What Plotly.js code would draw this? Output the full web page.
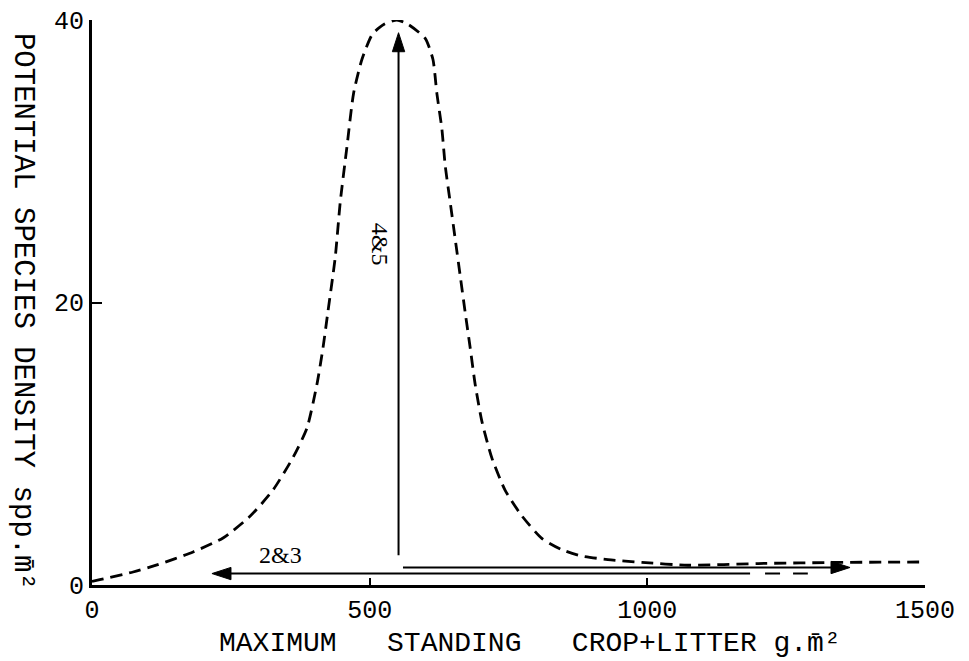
<!DOCTYPE html>
<html>
<head>
<meta charset="utf-8">
<script src="https://cdn.plot.ly/plotly-3.0.1.min.js"></script>
<style>html,body{margin:0;padding:0;background:#fff;}#chart{width:969px;height:661px;}</style>
</head>
<body>
<div id="chart"></div>
<script>
// Dashed curve: potential species density vs maximum standing crop + litter
const curveX = [0, 14, 74, 117, 182, 236, 285, 326, 362, 387, 405, 416, 425, 438, 447, 459, 471, 486, 505, 526, 549, 569, 600, 614, 621, 630, 636, 645, 654, 663, 672, 681, 690, 702, 720, 744, 774, 810, 846, 882, 929, 990, 1073, 1200, 1350, 1500];
const curveY = [0.25, 0.38, 0.92, 1.42, 2.34, 3.33, 4.88, 6.73, 9.03, 11.1, 14.2, 16.8, 19.4, 23.2, 27.1, 31.0, 34.8, 37.2, 39.0, 39.7, 40.0, 39.7, 38.7, 37.2, 34.8, 32.3, 29.7, 27.1, 24.5, 21.9, 19.3, 16.8, 14.2, 11.6, 9.0, 6.7, 4.9, 3.3, 2.5, 2.05, 1.8, 1.6, 1.4, 1.52, 1.6, 1.63];

// Arrows (tail -> head), data coordinates
const arrow45X = [552, 552];
const arrow45Y = [2.1, 39.1];
const arrowRightX = [560, 1365];
const arrowRightY = [1.24, 1.24];
const arrow23X = [1185, 216];
const arrow23Y = [0.81, 0.81];
const arrow23DashX = [1212, 1289];
const arrow23DashY = [0.81, 0.81];

// Labels
const label45 = {text: '4&amp;5', x: 520, y: 24.1};
const label23 = {text: '2&amp;3', x: 339, y: 2.12};

const xTicks = [0, 500, 1000, 1500];
const yTicks = [0, 20, 40];
const xTitle = 'MAXIMUM   STANDING   CROP+LITTER g.m\u0304\u00b2';
const yTitle = 'POTENTIAL SPECIES DENSITY spp.m\u0304\u00b2';

function arrowTrace(xs, ys) {
  return {x: xs, y: ys, mode: 'lines+markers', type: 'scatter',
    line: {color: '#000', width: 2},
    marker: {symbol: 'arrow', size: [0, 20], color: '#000', opacity: 1, angleref: 'previous',
             line: {width: 1, color: '#000'}},
    hoverinfo: 'skip', cliponaxis: false};
}

const traces = [
  {x: curveX, y: curveY, mode: 'lines', type: 'scatter',
   line: {color: '#000', width: 2.8, dash: '12px,7px', shape: 'spline', smoothing: 0.6},
   cliponaxis: false, hoverinfo: 'skip'},
  arrowTrace(arrow45X, arrow45Y),
  arrowTrace(arrowRightX, arrowRightY),
  arrowTrace(arrow23X, arrow23Y),
  {x: arrow23DashX, y: arrow23DashY, mode: 'lines', type: 'scatter',
   line: {color: '#000', width: 2, dash: '15px,13px'}, hoverinfo: 'skip'}
];

const serif = 'Liberation Serif, serif';
const mono = 'Liberation Mono, monospace';

const layout = {
  width: 969, height: 661,
  margin: {l: 92, r: 44, t: 20, b: 76},
  paper_bgcolor: '#fff', plot_bgcolor: '#fff',
  showlegend: false,
  xaxis: {range: [0, 1500], tickvals: xTicks, ticktext: xTicks.map(String),
    showline: true, linecolor: '#000', linewidth: 3, showgrid: false, zeroline: false,
    ticks: 'inside', ticklen: 7, tickwidth: 2, tickcolor: '#000',
    tickfont: {family: mono, size: 25, color: '#000'}, fixedrange: true},
  yaxis: {range: [0, 40], tickvals: yTicks, ticktext: yTicks.map(String),
    showline: true, linecolor: '#000', linewidth: 3, showgrid: false, zeroline: false,
    ticks: 'inside', ticklen: 10, tickwidth: 2, tickcolor: '#000',
    tickfont: {family: mono, size: 25, color: '#000'}, fixedrange: true},
  annotations: [
    {x: label45.x, y: label45.y, xref: 'x', yref: 'y', text: label45.text, showarrow: false, textangle: 90,
     font: {family: serif, size: 24, color: '#000'}},
    {x: label23.x, y: label23.y, xref: 'x', yref: 'y', text: label23.text, showarrow: false,
     font: {family: serif, size: 24, color: '#000'}},
    {x: 0.526, y: -0.104, xref: 'paper', yref: 'paper', text: xTitle, showarrow: false,
     xanchor: 'center', yanchor: 'middle', font: {family: mono, size: 28, color: '#000'}},
    {x: -0.084, y: 0.485, xref: 'paper', yref: 'paper', text: yTitle, showarrow: false, textangle: 90,
     xanchor: 'center', yanchor: 'middle', font: {family: mono, size: 29, color: '#000'}}
  ]
};

Plotly.newPlot('chart', traces, layout, {staticPlot: true, displayModeBar: false});
</script>
</body>
</html>
